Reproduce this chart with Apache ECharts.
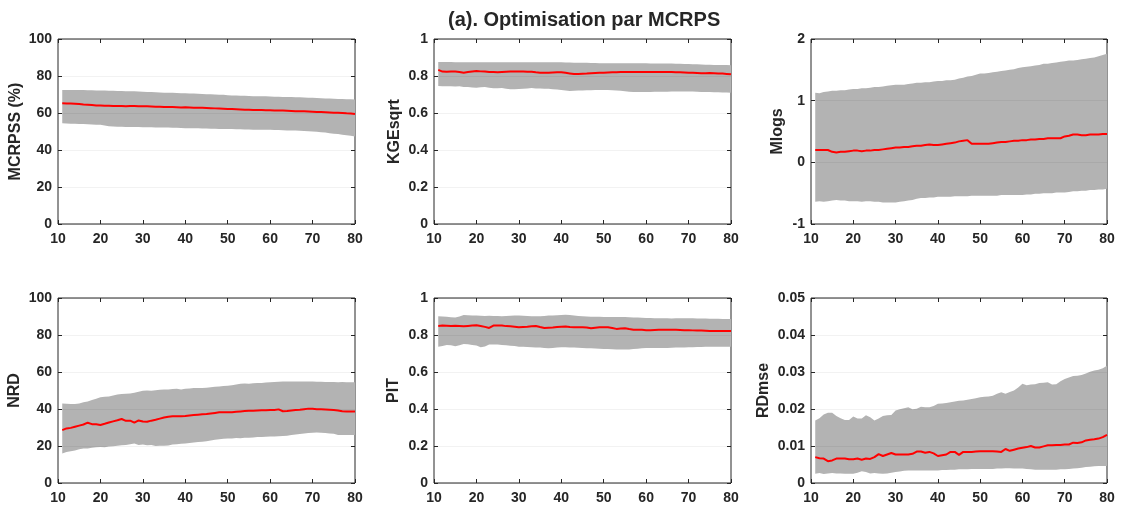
<!DOCTYPE html>
<html lang="fr">
<head>
    <meta charset="UTF-8">
    <title>Optimisation par MCRPS</title>
    <script src="https://cdn.jsdelivr.net/npm/echarts@6/dist/echarts.min.js"></script>
    <style>
        html, body { margin: 0; padding: 0; background: #fff; }
        #chart { width: 1123px; height: 509px; }
    </style>
</head>
<body>
<div id="chart"></div>
<script>
    // echeances (axe x)
    var leadTimes = [11,12,13,14,15,16,17,18,19,20,21,22,23,24,25,26,27,28,29,30,
        31,32,33,34,35,36,37,38,39,40,41,42,43,44,45,46,47,48,49,50,
        51,52,53,54,55,56,57,58,59,60,61,62,63,64,65,66,67,68,69,70,
        71,72,73,74,75,76,77,78,79,80];

    // MCRPSS (%)
    var mcrpssUpper = [72.5,72.5,72.5,72.5,72.4,72.4,72.3,72.3,72.2,72.2, 72.1,72.0,72.0,71.9,71.9,71.8,71.8,71.7,71.6,71.5,
        71.4,71.3,71.2,71.1,71.0,70.9,70.9,70.8,70.7,70.7, 70.6,70.5,70.4,70.3,70.2,70.1,70.0,69.9,69.8,69.6,
        69.5,69.4,69.3,69.3,69.2,69.1,69.1,69.0,69.0,68.9, 68.8,68.8,68.7,68.7,68.6,68.5,68.5,68.4,68.3,68.2,
        68.1,68.0,67.9,67.8,67.7,67.6,67.6,67.5,67.4,67.3];
    var mcrpssLower = [54.5,54.3,54.2,54.2,54.1,54.0,53.9,53.8,53.7,53.6, 53.2,52.8,52.7,52.6,52.6,52.5,52.5,52.4,52.4,52.3,
        52.3,52.3,52.2,52.2,52.1,52.1,52.0,52.0,51.9,51.8, 51.8,51.7,51.7,51.6,51.6,51.5,51.5,51.4,51.4,51.3,
        51.3,51.2,51.2,51.1,51.1,51.0,51.0,51.0,50.9,50.9, 50.8,50.8,50.7,50.6,50.5,50.5,50.4,50.3,50.2,50.0,
        49.8,49.6,49.4,49.1,48.8,48.6,48.3,48.0,47.7,47.3];
    var mcrpssMedian = [65.3,65.2,65.1,65.0,64.8,64.6,64.5,64.3,64.1,64.0, 63.9,63.9,63.8,63.8,63.8,63.7,63.8,63.8,63.7,63.7,
        63.6,63.5,63.4,63.4,63.3,63.2,63.2,63.1,63.0,63.1, 63.0,62.9,62.8,62.8,62.7,62.6,62.5,62.4,62.3,62.2,
        62.1,62.0,61.9,61.8,61.7,61.6,61.6,61.6,61.5,61.5, 61.4,61.3,61.3,61.2,61.1,61.0,61.0,60.9,60.8,60.7,
        60.6,60.5,60.4,60.3,60.2,60.1,60.0,59.8,59.7,59.5];

    // KGEsqrt
    var kgeUpper = [.876,.876,.876,.876,.875,.875,.875,.875,.875,.875, .874,.874,.874,.874,.874,.874,.874,.874,.874,.874,
        .874,.874,.874,.874,.874,.874,.874,.874,.874,.874, .873,.873,.872,.872,.871,.871,.870,.870,.869,.869,
        .869,.869,.869,.869,.869,.869,.869,.869,.869,.869, .868,.868,.868,.867,.867,.867,.866,.866,.865,.865,
        .864,.863,.862,.861,.861,.860,.860,.859,.859,.858];
    var kgeLower = [.746,.745,.744,.745,.743,.744,.741,.740,.738,.737, .739,.741,.736,.734,.734,.735,.731,.728,.729,.730,
        .731,.733,.735,.733,.732,.731,.731,.729,.727,.725, .722,.719,.720,.721,.722,.723,.723,.724,.724,.725,
        .724,.723,.722,.720,.718,.715,.714,.714,.714,.714, .714,.715,.715,.715,.715,.716,.716,.716,.716,.716,
        .716,.715,.714,.714,.713,.712,.712,.711,.711,.710];
    var kgeMedian = [.833,.824,.823,.824,.824,.822,.818,.821,.824,.827, .825,.824,.822,.821,.820,.822,.823,.824,.825,.825,
        .824,.823,.823,.820,.818,.818,.818,.819,.820,.820, .817,.814,.811,.811,.812,.813,.815,.816,.817,.818,
        .819,.820,.820,.821,.822,.822,.822,.822,.822,.822, .822,.822,.822,.822,.821,.821,.820,.820,.819,.818,
        .817,.816,.815,.815,.816,.815,.814,.813,.811,.809];

    // Mlogs
    var mlogsUpper = [1.13,1.12,1.14,1.15,1.16,1.16,1.17,1.17,1.18,1.19, 1.19,1.20,1.20,1.21,1.22,1.22,1.23,1.24,1.25,1.26,
        1.26,1.26,1.27,1.28,1.29,1.29,1.30,1.30,1.31,1.32, 1.32,1.33,1.33,1.34,1.36,1.37,1.39,1.40,1.42,1.44,
        1.44,1.45,1.46,1.47,1.48,1.49,1.50,1.51,1.53,1.54, 1.55,1.56,1.57,1.58,1.60,1.60,1.61,1.62,1.63,1.64,
        1.65,1.65,1.66,1.67,1.68,1.69,1.70,1.72,1.74,1.76];
    var mlogsLower = [-0.64,-0.63,-0.64,-0.63,-0.62,-0.61,-0.62,-0.62,-0.63,-0.63, -0.63,-0.64,-0.63,-0.63,-0.64,-0.64,-0.65,-0.65,-0.65,-0.65,
        -0.64,-0.63,-0.62,-0.61,-0.59,-0.58,-0.58,-0.57,-0.57,-0.56, -0.56,-0.56,-0.56,-0.55,-0.55,-0.55,-0.55,-0.54,-0.54,-0.54,
        -0.54,-0.54,-0.54,-0.54,-0.53,-0.53,-0.53,-0.53,-0.53,-0.53, -0.52,-0.52,-0.51,-0.51,-0.50,-0.50,-0.50,-0.49,-0.49,-0.49,
        -0.48,-0.47,-0.47,-0.46,-0.46,-0.45,-0.45,-0.44,-0.44,-0.43];
    var mlogsMedian = [0.20,0.20,0.20,0.20,0.17,0.16,0.17,0.17,0.18,0.19, 0.19,0.18,0.19,0.19,0.20,0.20,0.21,0.22,0.23,0.24,
        0.24,0.25,0.25,0.26,0.27,0.27,0.28,0.29,0.28,0.28, 0.29,0.30,0.31,0.32,0.34,0.35,0.36,0.30,0.30,0.30,
        0.30,0.30,0.31,0.32,0.33,0.33,0.34,0.35,0.35,0.36, 0.36,0.37,0.37,0.38,0.38,0.39,0.39,0.39,0.39,0.42,
        0.43,0.45,0.45,0.44,0.44,0.45,0.45,0.45,0.46,0.46];

    // NRD
    var nrdUpper = [43.0,42.8,42.7,42.7,43.0,43.6,44.0,44.8,45.5,46.3, 46.6,46.8,47.3,47.8,48.1,48.2,48.4,48.8,49.3,49.9,
        50.0,49.8,50.2,50.4,50.6,50.6,50.8,51.0,50.6,51.0, 51.1,51.3,51.3,51.4,51.5,51.8,52.0,52.2,52.4,52.6,
        52.8,53.3,53.6,53.8,53.7,53.9,54.0,54.1,54.3,54.4, 54.6,54.7,54.8,54.8,54.8,54.8,54.8,54.8,54.8,54.8,
        54.7,54.7,54.6,54.6,54.6,54.5,54.6,54.5,54.4,54.4];
    var nrdLower = [15.9,16.8,17.2,17.6,18.3,18.6,18.6,19.0,19.3,19.5, 19.3,19.7,19.9,20.1,20.4,20.5,20.9,21.3,20.6,20.8,
        20.4,20.6,20.0,20.1,20.1,20.3,20.8,21.0,21.2,21.3, 21.6,21.9,22.1,22.3,22.6,23.0,23.4,23.7,23.9,24.0,
        24.1,24.3,24.2,24.4,24.4,24.6,24.8,24.9,25.0,25.1, 25.2,25.3,25.4,25.6,25.9,26.2,26.5,26.8,27.0,27.1,
        27.3,27.2,27.0,26.8,26.6,26.0,25.9,26.0,26.0,26.0];
    var nrdMedian = [28.6,29.5,29.8,30.4,31.0,31.6,32.6,31.8,31.8,31.4, 32.0,32.7,33.3,33.9,34.6,33.6,33.7,32.6,33.8,33.2,
        33.1,33.7,34.2,34.8,35.4,35.8,36.1,36.1,36.1,36.2, 36.5,36.7,36.9,37.1,37.3,37.6,37.9,38.2,38.3,38.3,
        38.2,38.5,38.7,38.9,39.0,39.1,39.2,39.3,39.3,39.4, 39.5,39.8,38.8,38.9,39.2,39.4,39.6,39.9,40.2,40.1,
        39.9,39.8,39.7,39.6,39.4,39.2,38.8,38.7,38.7,38.6];

    // PIT
    var pitUpper = [.901,.900,.898,.896,.894,.900,.908,.907,.906,.906, .904,.903,.904,.903,.903,.902,.903,.904,.905,.905,
        .904,.903,.902,.902,.901,.903,.905,.906,.907,.908, .909,.908,.906,.903,.901,.900,.899,.898,.898,.897,
        .897,.897,.897,.897,.897,.896,.895,.894,.893,.892, .892,.891,.891,.890,.890,.889,.891,.891,.890,.890,
        .890,.889,.889,.889,.888,.888,.888,.887,.887,.887];
    var pitLower = [.737,.741,.746,.744,.739,.745,.752,.750,.746,.743, .734,.738,.748,.748,.748,.746,.744,.742,.740,.737,
        .736,.735,.734,.733,.732,.730,.728,.730,.732,.734, .734,.733,.732,.731,.730,.729,.728,.727,.726,.725,
        .724,.723,.722,.721,.721,.722,.724,.726,.728,.730, .730,.730,.730,.730,.730,.731,.732,.733,.733,.734,
        .734,.735,.735,.736,.736,.736,.736,.736,.736,.736];
    var pitMedian = [.849,.851,.850,.849,.850,.849,.847,.849,.851,.853, .849,.844,.838,.851,.852,.851,.848,.847,.845,.842,
        .843,.844,.847,.849,.843,.838,.839,.840,.843,.845, .846,.843,.842,.842,.842,.840,.836,.839,.842,.842,
        .842,.838,.833,.835,.836,.832,.829,.829,.828,.826, .826,.827,.828,.828,.829,.828,.828,.827,.826,.826,
        .825,.824,.824,.823,.822,.822,.822,.822,.822,.822];

    // RDmse
    var rdmseUpper = [.0169,.0175,.0185,.0190,.0190,.0181,.0175,.0170,.0170,.0180, .0174,.0174,.0183,.0178,.0169,.0174,.0181,.0183,.0184,.0196,
        .0199,.0202,.0205,.0199,.0201,.0206,.0205,.0205,.0208,.0214, .0215,.0216,.0218,.0220,.0222,.0223,.0225,.0227,.0229,.0232,
        .0233,.0234,.0236,.0241,.0245,.0241,.0246,.0250,.0258,.0268, .0264,.0266,.0267,.0270,.0271,.0272,.0266,.0267,.0275,.0281,
        .0285,.0289,.0290,.0292,.0296,.0301,.0304,.0306,.0310,.0317];
    var rdmseLower = [.0025,.0027,.0024,.0026,.0027,.0026,.0026,.0025,.0025,.0025, .0028,.0032,.0030,.0026,.0027,.0026,.0025,.0026,.0028,.0030,
        .0031,.0033,.0034,.0034,.0034,.0034,.0034,.0034,.0034,.0034, .0035,.0035,.0036,.0036,.0037,.0037,.0037,.0038,.0038,.0038,
        .0038,.0038,.0038,.0039,.0039,.0040,.0040,.0039,.0039,.0039, .0038,.0037,.0036,.0036,.0036,.0036,.0036,.0036,.0037,.0037,
        .0038,.0039,.0040,.0041,.0043,.0044,.0045,.0046,.0046,.0046];
    var rdmseMedian = [.0070,.0067,.0066,.0059,.0061,.0066,.0066,.0066,.0064,.0064, .0066,.0063,.0066,.0065,.0070,.0078,.0073,.0077,.0081,.0077,
        .0077,.0077,.0077,.0079,.0085,.0085,.0082,.0084,.0080,.0073, .0075,.0077,.0084,.0084,.0076,.0084,.0084,.0084,.0085,.0086,
        .0086,.0086,.0086,.0085,.0084,.0092,.0087,.0090,.0093,.0095, .0097,.0100,.0096,.0096,.0099,.0102,.0102,.0103,.0103,.0104,
        .0104,.0109,.0108,.0110,.0115,.0117,.0118,.0120,.0124,.0130];

    var panels = [
        {name: 'MCRPSS (%)', min: 0, max: 100, step: 20, lower: mcrpssLower, upper: mcrpssUpper, median: mcrpssMedian, gap: 34},
        {name: 'KGEsqrt', min: 0, max: 1, step: 0.2, lower: kgeLower, upper: kgeUpper, median: kgeMedian, gap: 31},
        {name: 'Mlogs', min: -1, max: 2, step: 1, lower: mlogsLower, upper: mlogsUpper, median: mlogsMedian, gap: 25},
        {name: 'NRD', min: 0, max: 100, step: 20, lower: nrdLower, upper: nrdUpper, median: nrdMedian, gap: 35},
        {name: 'PIT', min: 0, max: 1, step: 0.2, lower: pitLower, upper: pitUpper, median: pitMedian, gap: 32},
        {name: 'RDmse', min: 0, max: 0.05, step: 0.01, lower: rdmseLower, upper: rdmseUpper, median: rdmseMedian, gap: 39}
    ];

    var colLeft = [58, 434, 811];
    var colWidth = [297, 297, 296];
    var rowTop = [39, 298];
    var txt = '#262626';
    var fontFam = '"Liberation Sans", Arial, sans-serif';

    // bande min-max : un seul polygone (haut puis bas a l'envers)
    function bandRenderer(p) {
        return function (params, api) {
            if (params.dataIndex !== 0) return;
            var pts = [];
            for (var k = 0; k < leadTimes.length; k++) pts.push(api.coord([leadTimes[k], p.upper[k]]));
            for (var k2 = leadTimes.length - 1; k2 >= 0; k2--) pts.push(api.coord([leadTimes[k2], p.lower[k2]]));
            return {type: 'polygon', shape: {points: pts}, style: {fill: '#b3b3b3'}, silent: true};
        };
    }

    var grids = [], xAxes = [], yAxes = [], series = [];

    panels.forEach(function (p, i) {
        var c = i % 3, r = Math.floor(i / 3);
        grids.push({left: colLeft[c], top: rowTop[r], width: colWidth[c], height: 185,
            show: true, borderColor: txt, borderWidth: 1, backgroundColor: 'transparent'});

        // axe x bas + axe x haut (graduations seules)
        xAxes.push({gridIndex: i, type: 'value', min: 10, max: 80, interval: 10, position: 'bottom',
            axisLine: {show: false, onZero: false},
            axisTick: {inside: true, length: 4, lineStyle: {color: txt}},
            axisLabel: {color: txt, fontWeight: 'bold', fontSize: 14, fontFamily: fontFam, margin: 8},
            splitLine: {show: false}});
        xAxes.push({gridIndex: i, type: 'value', min: 10, max: 80, interval: 10, position: 'top',
            axisLine: {show: false, onZero: false},
            axisTick: {inside: true, length: 4, lineStyle: {color: txt}},
            axisLabel: {show: false}, splitLine: {show: false}});

        // axe y gauche + droite
        yAxes.push({gridIndex: i, type: 'value', min: p.min, max: p.max, interval: p.step, position: 'left', z: 3,
            name: p.name, nameLocation: 'middle', nameGap: p.gap,
            nameTextStyle: {color: txt, fontWeight: 'bold', fontSize: 16, fontFamily: fontFam},
            axisLine: {show: false, onZero: false},
            axisTick: {inside: true, length: 4, lineStyle: {color: txt}},
            axisLabel: {color: txt, fontWeight: 'bold', fontSize: 14, fontFamily: fontFam, margin: 6},
            splitLine: {show: true, lineStyle: {color: 'rgba(0,0,0,0.05)', width: 1}}});
        yAxes.push({gridIndex: i, type: 'value', min: p.min, max: p.max, interval: p.step, position: 'right',
            axisLine: {show: false, onZero: false},
            axisTick: {inside: true, length: 4, lineStyle: {color: txt}},
            axisLabel: {show: false}, splitLine: {show: false}});

        var med = [];
        for (var k = 0; k < leadTimes.length; k++) med.push([leadTimes[k], p.median[k]]);

        series.push({type: 'custom', xAxisIndex: 2 * i, yAxisIndex: 2 * i, data: med,
            renderItem: bandRenderer(p), silent: true, z: 1});
        series.push({type: 'line', xAxisIndex: 2 * i, yAxisIndex: 2 * i, data: med, symbol: 'none',
            lineStyle: {color: '#ff0000', width: 2}, z: 5});
    });

    var chart = echarts.init(document.getElementById('chart'), null, {renderer: 'canvas'});
    chart.setOption({
        animation: false,
        backgroundColor: '#ffffff',
        title: {text: '(a). Optimisation par MCRPS', left: 443, top: 5,
            textStyle: {color: txt, fontWeight: 'bold', fontSize: 20, fontFamily: fontFam}},
        grid: grids,
        xAxis: xAxes,
        yAxis: yAxes,
        series: series
    });
</script>
</body>
</html>
